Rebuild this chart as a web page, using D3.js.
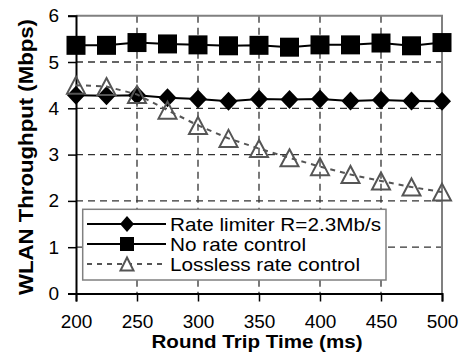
<!DOCTYPE html>
<html>
  <head>
    <meta charset="utf-8">
    <title>WLAN Throughput vs RTT</title>
    <script src="https://d3js.org/d3.v7.min.js"></script>
    <style>
      body { margin: 0; background: #fff; }
      text { font-family: "Liberation Sans", Arial, sans-serif; fill: #000; }
    </style>
  </head>
  <body>
    <div id="chart"></div>
    <script>
      var rtt = [200, 225, 250, 275, 300, 325, 350, 375, 400, 425, 450, 475, 500];
      var rateLimiter = [4.28, 4.27, 4.28, 4.23, 4.2, 4.15, 4.2, 4.19, 4.2, 4.16, 4.18, 4.16, 4.15];
      var noRateControl = [5.36, 5.36, 5.42, 5.39, 5.37, 5.35, 5.36, 5.32, 5.37, 5.37, 5.41, 5.35, 5.42];
      var lossless = [4.5, 4.47, 4.3, 3.96, 3.63, 3.35, 3.13, 2.93, 2.74, 2.57, 2.43, 2.3, 2.19];
      var xTicks = [200, 250, 300, 350, 400, 450, 500];
      var yTicks = [0, 1, 2, 3, 4, 5, 6];
      var seriesNames = ["Rate limiter R=2.3Mb/s", "No rate control", "Lossless rate control"];
      var legendWidths = [211, 136, 190];

      var W = 464, H = 353;
      var plotLeft = 76, plotRight = 442, plotTop = 15.7, plotBottom = 293.5;

      var svg = d3.select("#chart").append("svg")
        .attr("width", W)
        .attr("height", H);

      var x = d3.scaleLinear().domain([200, 500]).range([plotLeft, plotRight]);
      var y = d3.scaleLinear().domain([0, 6]).range([plotBottom, plotTop]);

      // grid
      svg.append("g").selectAll("line")
        .data(yTicks.filter(function(d) { return d > 0 && d < 6; }))
        .enter().append("line")
        .attr("x1", plotLeft).attr("x2", plotRight)
        .attr("y1", function(d) { return y(d); })
        .attr("y2", function(d) { return y(d); })
        .attr("stroke", "#333")
        .attr("stroke-width", 1.3)
        .attr("stroke-dasharray", "7,5");

      svg.append("g").selectAll("line")
        .data(xTicks.filter(function(d) { return d > 200 && d < 500; }))
        .enter().append("line")
        .attr("x1", function(d) { return x(d); })
        .attr("x2", function(d) { return x(d); })
        .attr("y1", plotTop).attr("y2", plotBottom)
        .attr("stroke", "#333")
        .attr("stroke-width", 1.3)
        .attr("stroke-dasharray", "7,5");

      // frame: grey top/right, black axes
      svg.append("path")
        .attr("d", "M" + plotLeft + "," + plotTop + "H" + plotRight + "V" + plotBottom)
        .attr("fill", "none")
        .attr("stroke", "#808080")
        .attr("stroke-width", 2);

      var yAxis = d3.axisLeft(y).tickValues(yTicks).tickSize(8).tickFormat(d3.format("d"));
      var gy = svg.append("g").attr("transform", "translate(" + plotLeft + ",0)").call(yAxis);
      gy.select(".domain").attr("stroke", "#000").attr("stroke-width", 2);
      gy.selectAll(".tick line").attr("stroke", "#000").attr("stroke-width", 1.5);
      gy.selectAll(".tick text")
        .attr("x", -17)
        .style("font-size", "19px")
        .style("font-family", "Liberation Sans, Arial, sans-serif")
        .attr("fill", "#000");

      var xAxis = d3.axisBottom(x).tickValues(xTicks).tickSize(8).tickFormat(d3.format("d"));
      var gx = svg.append("g").attr("transform", "translate(0," + plotBottom + ")").call(xAxis);
      gx.select(".domain").attr("stroke", "#000").attr("stroke-width", 2);
      gx.selectAll(".tick line").attr("stroke", "#000").attr("stroke-width", 1.5);
      gx.selectAll(".tick text")
        .attr("y", 21)
        .style("font-size", "19px")
        .style("font-family", "Liberation Sans, Arial, sans-serif")
        .attr("fill", "#000");

      // axis titles
      svg.append("text")
        .text("Round Trip Time (ms)")
        .attr("x", 257)
        .attr("y", 348)
        .attr("text-anchor", "middle")
        .attr("textLength", 211)
        .attr("lengthAdjust", "spacingAndGlyphs")
        .style("font-size", "19px")
        .style("font-weight", "bold");

      svg.append("text")
        .text("WLAN Throughput (Mbps)")
        .attr("transform", "translate(33,157) rotate(-90)")
        .attr("text-anchor", "middle")
        .attr("textLength", 276)
        .attr("lengthAdjust", "spacingAndGlyphs")
        .style("font-size", "20px")
        .style("font-weight", "bold");

      // marker shapes
      function diamond(w, h) {
        return "M0," + (-h / 2) + "L" + (w / 2) + ",0L0," + (h / 2) + "L" + (-w / 2) + ",0Z";
      }
      function square(s) {
        return "M" + (-s / 2) + "," + (-s / 2) + "h" + s + "v" + s + "h" + (-s) + "Z";
      }
      function triangle(w, h) {
        return "M0," + (-h / 2) + "L" + (w / 2) + "," + (h / 2) + "L" + (-w / 2) + "," + (h / 2) + "Z";
      }

      var line = d3.line()
        .x(function(d) { return x(d[0]); })
        .y(function(d) { return y(d[1]); });

      var sq = rtt.map(function(t, i) { return [t, noRateControl[i]]; });
      var dm = rtt.map(function(t, i) { return [t, rateLimiter[i]]; });
      var tr = rtt.map(function(t, i) { return [t, lossless[i]]; });

      svg.append("path").datum(sq).attr("d", line)
        .attr("fill", "none").attr("stroke", "#000").attr("stroke-width", 2);
      svg.append("g").selectAll("path").data(sq).enter().append("path")
        .attr("d", square(19))
        .attr("transform", function(d) { return "translate(" + x(d[0]) + "," + y(d[1]) + ")"; })
        .attr("fill", "#000");

      svg.append("path").datum(dm).attr("d", line)
        .attr("fill", "none").attr("stroke", "#000").attr("stroke-width", 2);
      svg.append("g").selectAll("path").data(dm).enter().append("path")
        .attr("d", diamond(18, 19))
        .attr("transform", function(d) { return "translate(" + x(d[0]) + "," + y(d[1]) + ")"; })
        .attr("fill", "#000");

      svg.append("path").datum(tr).attr("d", line)
        .attr("fill", "none").attr("stroke", "#555").attr("stroke-width", 2)
        .attr("stroke-dasharray", "5,5");
      svg.append("g").selectAll("path").data(tr).enter().append("path")
        .attr("d", triangle(18, 17))
        .attr("transform", function(d) { return "translate(" + x(d[0]) + "," + y(d[1]) + ")"; })
        .attr("fill", "none")
        .attr("stroke", "#555")
        .attr("stroke-width", 2);

      // legend
      var legend = svg.append("g");
      legend.append("rect")
        .attr("x", 82.7).attr("y", 209.3)
        .attr("width", 303.3).attr("height", 70.7)
        .attr("fill", "#fff")
        .attr("stroke", "#808080")
        .attr("stroke-width", 1.5);

      var rows = legend.selectAll("g.item").data(seriesNames).enter().append("g")
        .attr("class", "item")
        .attr("transform", function(d, i) { return "translate(0," + (224 + i * 20) + ")"; });

      rows.append("line")
        .attr("x1", 87).attr("x2", 166)
        .attr("stroke", function(d, i) { return i == 2 ? "#555" : "#000"; })
        .attr("stroke-width", 2)
        .attr("stroke-dasharray", function(d, i) { return i == 2 ? "5,5" : null; });

      rows.append("path")
        .attr("d", function(d, i) {
          if (i == 0) return diamond(14, 16);
          if (i == 1) return square(14);
          return triangle(13, 13);
        })
        .attr("transform", "translate(127,0)")
        .attr("fill", function(d, i) { return i == 2 ? "#fff" : "#000"; })
        .attr("stroke", function(d, i) { return i == 2 ? "#555" : "none"; })
        .attr("stroke-width", 2);

      rows.append("text")
        .text(function(d) { return d; })
        .attr("x", 170)
        .attr("dy", "0.35em")
        .attr("textLength", function(d, i) { return legendWidths[i]; })
        .attr("lengthAdjust", "spacingAndGlyphs")
        .style("font-size", "19px");
    </script>
  </body>
</html>
